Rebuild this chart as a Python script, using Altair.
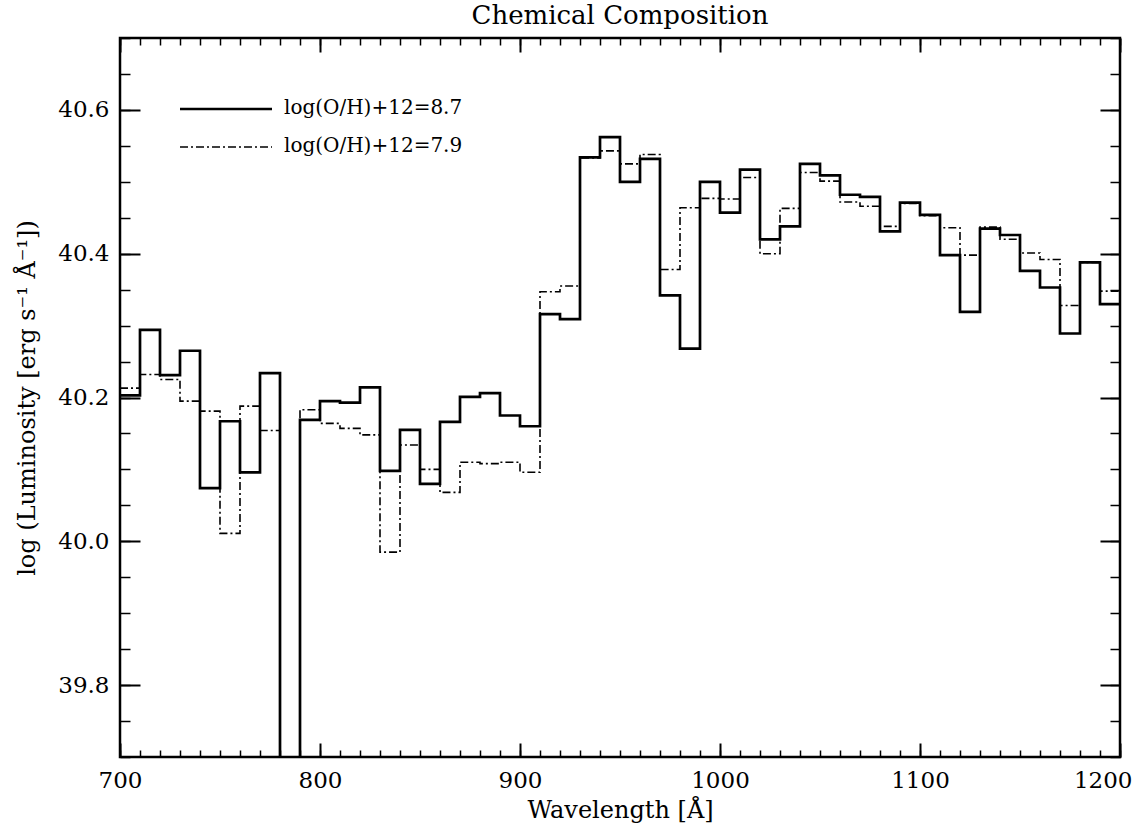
import altair as alt
import pandas as pd

# Spectral bins (lower edge of each 10 Å bin) and the upper edge of the last one
bin_start = [700, 710, 720, 730, 740, 750, 760, 770, 780, 790,
             800, 810, 820, 830, 840, 850, 860, 870, 880, 890,
             900, 910, 920, 930, 940, 950, 960, 970, 980, 990,
             1000, 1010, 1020, 1030, 1040, 1050, 1060, 1070, 1080, 1090,
             1100, 1110, 1120, 1130, 1140, 1150, 1160, 1170, 1180, 1190]
last_edge = 1200

# log luminosity per bin, metal-rich model: log(O/H)+12 = 8.7
lum_oh87 = [40.203, 40.294, 40.231, 40.265, 40.074, 40.167, 40.096, 40.234, 39.000, 40.169,
            40.195, 40.193, 40.214, 40.098, 40.155, 40.080, 40.166, 40.201, 40.206, 40.175,
            40.160, 40.316, 40.309, 40.534, 40.562, 40.500, 40.532, 40.342, 40.268, 40.500,
            40.457, 40.517, 40.420, 40.438, 40.525, 40.509, 40.482, 40.479, 40.431, 40.471,
            40.454, 40.398, 40.319, 40.435, 40.426, 40.376, 40.353, 40.289, 40.388, 40.330]

# log luminosity per bin, metal-poor model: log(O/H)+12 = 7.9
lum_oh79 = [40.213, 40.232, 40.225, 40.195, 40.181, 40.011, 40.188, 40.154, 39.000, 40.183,
            40.164, 40.157, 40.148, 39.985, 40.134, 40.100, 40.068, 40.110, 40.108, 40.110,
            40.096, 40.347, 40.355, 40.533, 40.543, 40.525, 40.538, 40.378, 40.464, 40.477,
            40.476, 40.506, 40.400, 40.463, 40.513, 40.501, 40.472, 40.466, 40.438, 40.470,
            40.453, 40.436, 40.398, 40.437, 40.420, 40.401, 40.392, 40.328, 40.388, 40.348]

label_87 = "log(O/H)+12=8.7"
label_79 = "log(O/H)+12=7.9"

x_major = [700, 800, 900, 1000, 1100, 1200]
x_minor = list(range(700, 1201, 10))
y_major = [39.8, 40.0, 40.2, 40.4, 40.6]
y_minor = [round(39.7 + 0.05 * i, 2) for i in range(21)]

FONT = "'DejaVu Serif', 'Liberation Serif', serif"
DASHDOT = [8, 3, 2, 3]


def step_table(values):
    # step-after needs a closing point at the last bin edge
    return pd.DataFrame({
        "wl": bin_start + [last_edge],
        "lum": values + [values[-1]],
    })


df87 = step_table(lum_oh87)
df79 = step_table(lum_oh79)

xscale = alt.Scale(domain=[700, 1200], nice=False, zero=False)
yscale = alt.Scale(domain=[39.7, 40.7], nice=False, zero=False)

tick_common = dict(domain=False, grid=False, tickColor="black")


def x_axis(orient, size, width, values, labels=False, title=None):
    # ticks point into the plot: shift the axis inward by its tick length
    kw = dict(orient=orient, values=values, offset=-size, tickSize=size,
              tickWidth=width, labels=labels, title=title, **tick_common)
    if labels:
        kw.update(labelFont=FONT, labelFontSize=23, labelColor="black",
                  labelPadding=12, format="d", labelFlush=False,
                  labelAlign=alt.ExprRef("datum.value >= 1200 ? 'right' : 'center'"),
                  labelOffset=alt.ExprRef("datum.value >= 1200 ? 12 : 0"))
    if title:
        kw.update(titleFont=FONT, titleFontSize=24, titleFontWeight="normal",
                  titleColor="black", titlePadding=6)
    return alt.Axis(**kw)


def y_axis(orient, size, width, values, labels=False, title=None):
    kw = dict(orient=orient, values=values, offset=-size, tickSize=size,
              tickWidth=width, labels=labels, title=title, **tick_common)
    if labels:
        kw.update(labelFont=FONT, labelFontSize=23, labelColor="black",
                  labelPadding=11, format=".1f", labelFlush=False)
    if title:
        kw.update(titleFont=FONT, titleFontSize=24, titleFontWeight="normal",
                  titleColor="black", titlePadding=18)
    return alt.Axis(**kw)


solid = alt.Chart(df87).mark_line(
    interpolate="step-after", clip=True, color="black", strokeWidth=2.7
).encode(
    x=alt.X("wl:Q", scale=xscale,
            axis=x_axis("bottom", 14, 2, x_major, labels=True, title="Wavelength [Å]")),
    y=alt.Y("lum:Q", scale=yscale,
            axis=y_axis("left", 20, 2, y_major, labels=True,
                        title="log (Luminosity [erg s⁻¹ Å⁻¹])")),
)

dashdot = alt.Chart(df79).mark_line(
    interpolate="step-after", clip=True, color="black", strokeWidth=1.6,
    strokeDash=DASHDOT
).encode(
    x=alt.X("wl:Q", scale=xscale, axis=x_axis("bottom", 7, 1.5, x_minor)),
    y=alt.Y("lum:Q", scale=yscale, axis=y_axis("left", 10, 1.5, y_minor)),
)

# invisible copies that carry the ticks on the top and right edges
top_right_major = alt.Chart(df87).mark_line(opacity=0).encode(
    x=alt.X("wl:Q", scale=xscale, axis=x_axis("top", 14, 2, x_major)),
    y=alt.Y("lum:Q", scale=yscale, axis=y_axis("right", 20, 2, y_major)),
)
top_right_minor = alt.Chart(df87).mark_line(opacity=0).encode(
    x=alt.X("wl:Q", scale=xscale, axis=x_axis("top", 7, 1.5, x_minor)),
    y=alt.Y("lum:Q", scale=yscale, axis=y_axis("right", 10, 1.5, y_minor)),
)

# key in the upper-left corner
one_row = pd.DataFrame({"k": [0]})
key_solid = alt.Chart(one_row).mark_rule(color="black", strokeWidth=2.7).encode(
    x=alt.value(60), x2=alt.value(152), y=alt.value(71))
key_dash = alt.Chart(one_row).mark_rule(
    color="black", strokeWidth=1.6, strokeDash=DASHDOT).encode(
    x=alt.value(60), x2=alt.value(152), y=alt.value(109))
key_text87 = alt.Chart(one_row).mark_text(
    align="left", baseline="middle", font=FONT, fontSize=20, color="black").encode(
    x=alt.value(164), y=alt.value(70), text=alt.value(label_87))
key_text79 = alt.Chart(one_row).mark_text(
    align="left", baseline="middle", font=FONT, fontSize=20, color="black").encode(
    x=alt.value(164), y=alt.value(108), text=alt.value(label_79))

chart = alt.layer(
    solid, dashdot, top_right_major, top_right_minor,
    key_solid, key_dash, key_text87, key_text79,
).resolve_axis(
    x="independent", y="independent"
).properties(
    width=1000,
    height=719,
    background="white",
    title=alt.TitleParams("Chemical Composition", font=FONT, fontSize=26,
                          fontWeight="normal", color="black", offset=8),
    autosize=alt.AutoSizeParams(type="none"),
    padding={"left": 120, "top": 38, "right": 15, "bottom": 82},
).configure_view(
    stroke="black", strokeWidth=2.5
)

chart.save("out.html", embed_options={"renderer": "svg", "actions": False})
